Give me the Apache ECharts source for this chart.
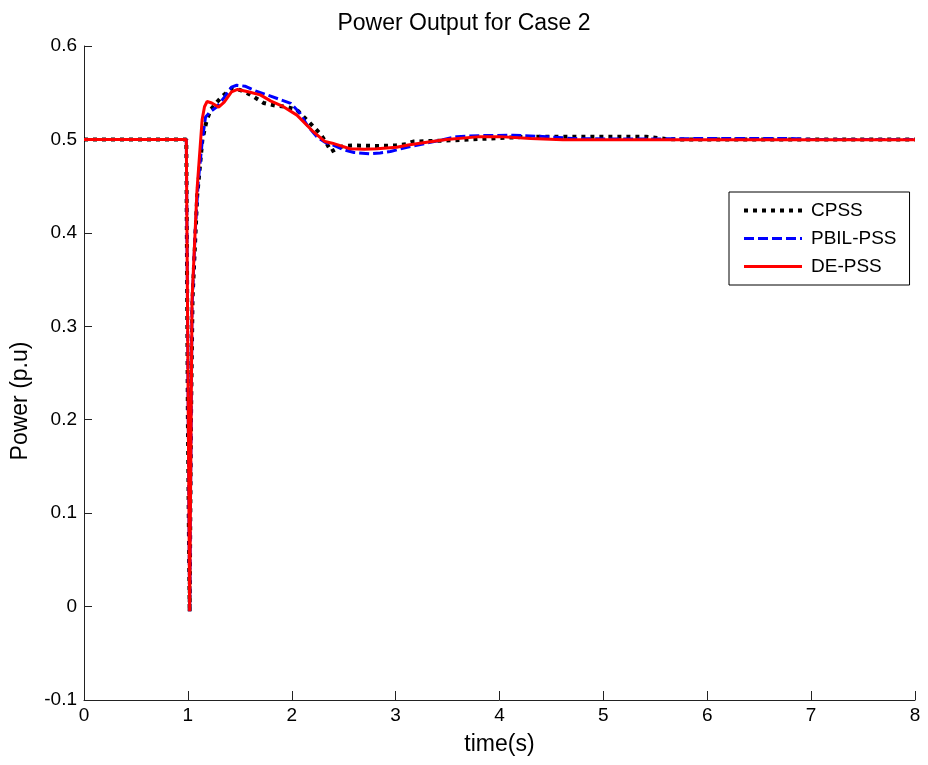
<!DOCTYPE html>
<html>
<head>
<meta charset="utf-8">
<script src="https://cdn.jsdelivr.net/npm/echarts@6/dist/echarts.min.js"></script>
<style>
html,body{margin:0;padding:0;background:#fff;}
#main{width:928px;height:765px;}
</style>
</head>
<body>
<div id="main"></div>
<script>
// ---- Data ----
var seriesNames = ['CPSS', 'PBIL-PSS', 'DE-PSS'];

var cpssTime  = [0, 0.985, 1.0, 1.017, 1.03, 1.045, 1.09, 1.14, 1.18, 1.22, 1.28, 1.33, 1.42, 1.5, 1.6, 1.73, 1.85, 1.95, 2.05, 2.18, 2.27, 2.33, 2.38, 2.43, 2.5, 2.6, 2.8, 3.0, 3.1, 3.17, 3.4, 3.65, 3.9, 4.2, 4.45, 5.0, 5.41, 5.6, 5.74, 6.5, 8];
var cpssPower = [0.5, 0.5, 0.2, -0.006, 0.2, 0.33, 0.44, 0.5, 0.52, 0.532, 0.54, 0.546, 0.5545, 0.553, 0.548, 0.539, 0.536, 0.535, 0.5315, 0.517, 0.5066, 0.497, 0.487, 0.49, 0.493, 0.4935, 0.493, 0.4935, 0.495, 0.4977, 0.4985, 0.4995, 0.501, 0.5025, 0.503, 0.503, 0.503, 0.5005, 0.5, 0.5, 0.5];

var pbilTime  = [0, 0.985, 1.017, 1.04, 1.07, 1.1, 1.14, 1.17, 1.22, 1.28, 1.35, 1.42, 1.47, 1.55, 1.65, 1.76, 1.88, 1.99, 2.08, 2.15, 2.24, 2.32, 2.4, 2.5, 2.6, 2.75, 2.85, 2.95, 3.11, 3.3, 3.59, 3.8, 4.13, 4.45, 4.7, 5.0, 5.5, 6.0, 6.5, 6.8, 7.0, 8];
var pbilPower = [0.5, 0.5, -0.005, 0.32, 0.40, 0.455, 0.50, 0.524, 0.53, 0.535, 0.545, 0.556, 0.558, 0.557, 0.552, 0.5477, 0.543, 0.5386, 0.528, 0.515, 0.503, 0.497, 0.494, 0.489, 0.486, 0.4846, 0.4855, 0.487, 0.4917, 0.496, 0.503, 0.504, 0.5046, 0.503, 0.501, 0.5005, 0.5005, 0.501, 0.501, 0.501, 0.5, 0.5];

var deTime  = [0, 0.985, 1.017, 1.04, 1.088, 1.137, 1.16, 1.185, 1.23, 1.296, 1.35, 1.42, 1.479, 1.58, 1.697, 1.8, 1.92, 2.05, 2.21, 2.32, 2.39, 2.56, 2.7, 2.82, 3.01, 3.12, 3.3, 3.49, 3.81, 4.0, 4.3, 4.61, 5.74, 8];
var dePower = [0.5, 0.5, -0.005, 0.328, 0.446, 0.521, 0.535, 0.5406, 0.539, 0.5346, 0.54, 0.551, 0.5535, 0.551, 0.5477, 0.541, 0.535, 0.526, 0.508, 0.4977, 0.496, 0.49, 0.4895, 0.49, 0.4917, 0.494, 0.497, 0.5, 0.503, 0.503, 0.501, 0.4997, 0.4997, 0.4997];

var xTicks = {min: 0, max: 8, interval: 1};
var yTicks = {min: -0.1, max: 0.6, interval: 0.1};

function zip(t, v) { return t.map(function (x, i) { return [x, v[i]]; }); }

var FONT = '"Liberation Sans", Arial, Helvetica, sans-serif';
var chart = echarts.init(document.getElementById('main'), null, {renderer: 'canvas'});

chart.setOption({
  animation: false,
  backgroundColor: '#ffffff',
  title: {
    text: 'Power Output for Case 2',
    left: 'center',
    top: 12,
    padding: 0,
    textStyle: {fontFamily: FONT, fontSize: 23, fontWeight: 'normal', color: '#000'}
  },
  grid: {left: 84, right: 13, top: 46, bottom: 65, containLabel: false},
  legend: {
    orient: 'vertical',
    left: 729,
    top: 192,
    padding: [9, 13, 9, 13],
    itemGap: 9,
    itemWidth: 58,
    itemHeight: 14,
    borderColor: '#000',
    borderWidth: 1,
    backgroundColor: '#fff',
    itemStyle: {opacity: 0},
    textStyle: {fontFamily: FONT, fontSize: 19, color: '#000', padding: [0, 0, 0, 4]},
    data: [
      {name: seriesNames[0], lineStyle: {width: 4, type: [4, 5], color: '#000'}},
      {name: seriesNames[1], lineStyle: {width: 3, type: [10, 4], color: '#0000ff'}},
      {name: seriesNames[2], lineStyle: {width: 3, type: 'solid', color: '#ff0000'}}
    ]
  },
  xAxis: {
    type: 'value',
    min: xTicks.min, max: xTicks.max, interval: xTicks.interval,
    name: 'time(s)',
    nameLocation: 'middle',
    nameGap: 33,
    nameTextStyle: {fontFamily: FONT, fontSize: 23, color: '#000'},
    axisLine: {show: true, onZero: false, lineStyle: {color: '#222', width: 1}},
    axisTick: {show: true, inside: true, length: 9, lineStyle: {color: '#222'}},
    axisLabel: {fontFamily: FONT, fontSize: 19, color: '#000', margin: 6},
    splitLine: {show: false}
  },
  yAxis: {
    type: 'value',
    min: yTicks.min, max: yTicks.max, interval: yTicks.interval,
    name: 'Power (p.u)',
    nameLocation: 'middle',
    nameGap: 52,
    nameTextStyle: {fontFamily: FONT, fontSize: 23, color: '#000', padding: [0, 56, 0, 0]},
    axisLine: {show: true, onZero: false, lineStyle: {color: '#222', width: 1}},
    axisTick: {show: true, inside: true, length: 8, lineStyle: {color: '#222'}},
    axisLabel: {fontFamily: FONT, fontSize: 19, color: '#000', margin: 7},
    splitLine: {show: false}
  },
  series: [
    {
      name: seriesNames[0], type: 'line', data: zip(cpssTime, cpssPower),
      showSymbol: false, symbol: 'none', z: 2,
      itemStyle: {color: '#000'},
      lineStyle: {color: '#000', width: 4, type: [4, 5], cap: 'butt'}
    },
    {
      name: seriesNames[1], type: 'line', data: zip(pbilTime, pbilPower),
      showSymbol: false, symbol: 'none', z: 3,
      itemStyle: {color: '#0000ff'},
      lineStyle: {color: '#0000ff', width: 3, type: [10, 4], cap: 'butt'}
    },
    {
      name: seriesNames[2], type: 'line', data: zip(deTime, dePower),
      showSymbol: false, symbol: 'none', z: 4,
      itemStyle: {color: '#ff0000'},
      lineStyle: {color: '#ff0000', width: 3, type: 'solid'}
    }
  ]
});
</script>
</body>
</html>
